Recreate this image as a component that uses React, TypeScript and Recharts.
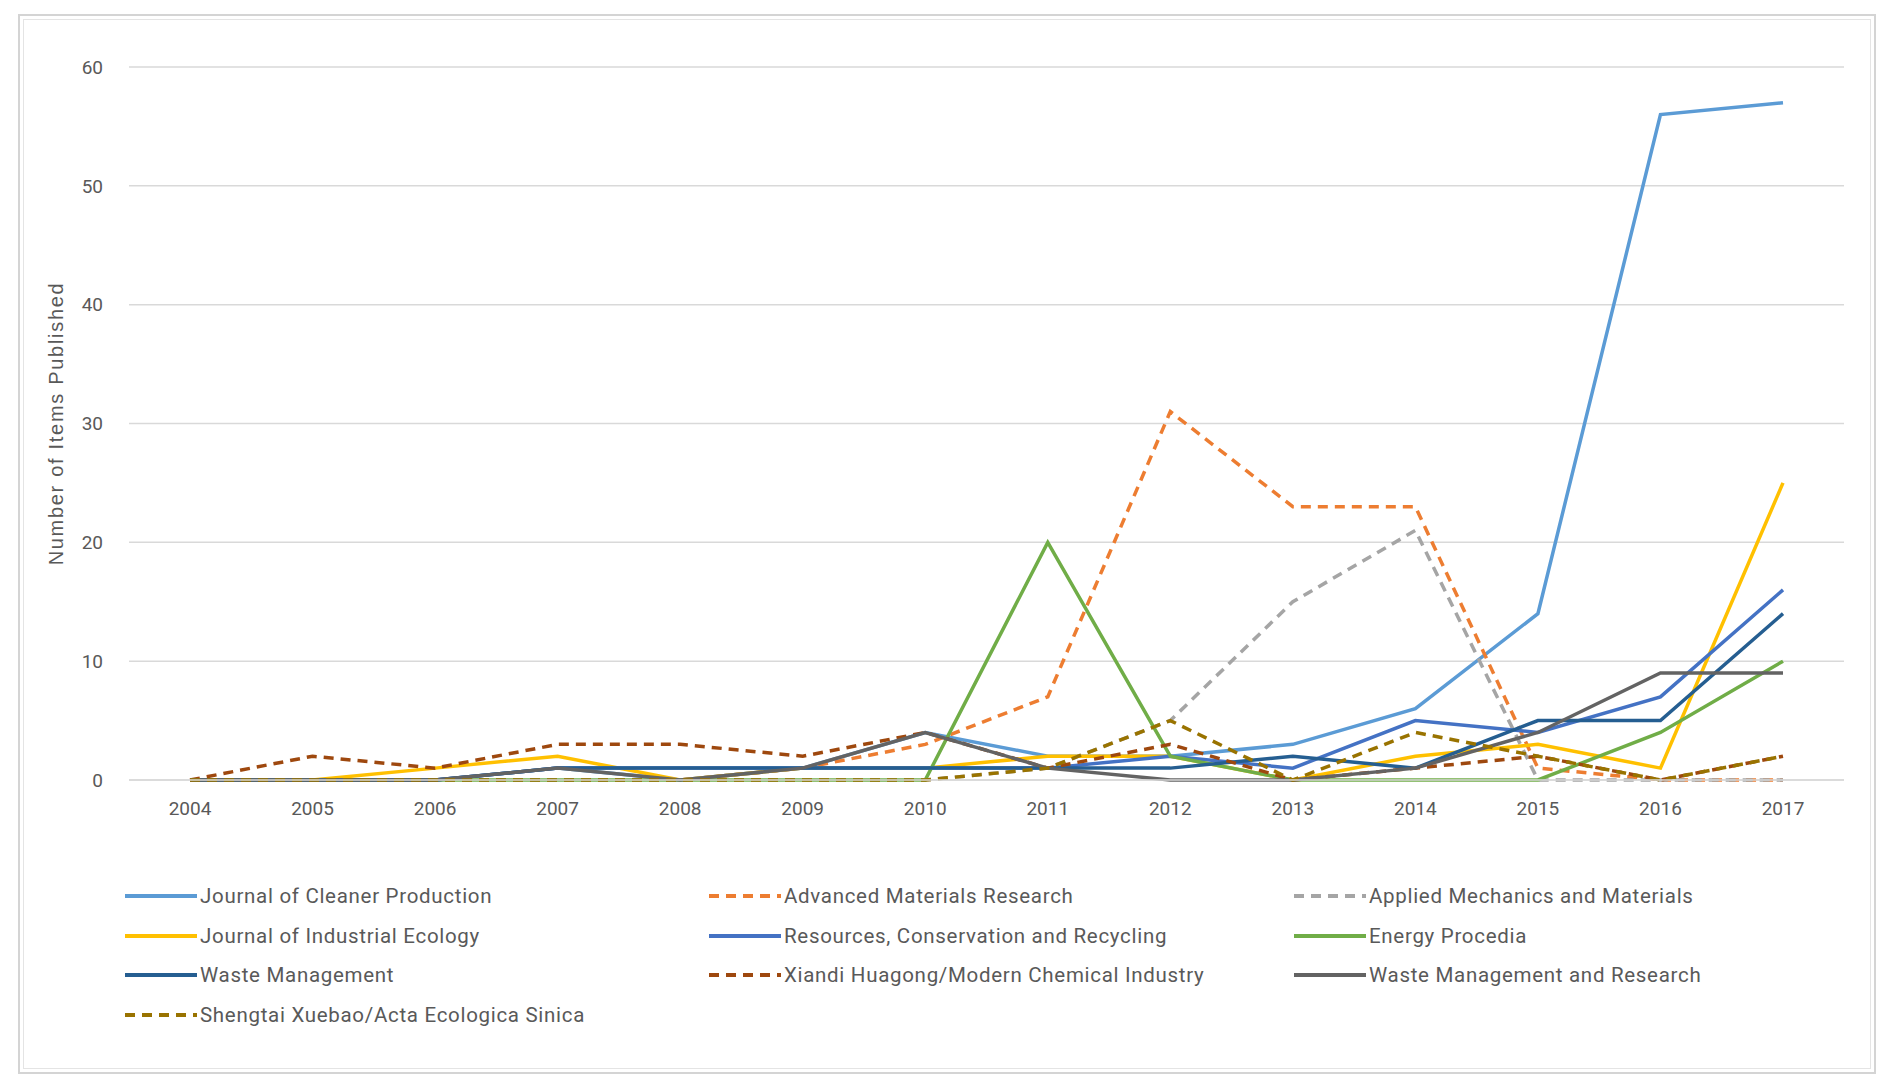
import React from "react"
import { LineChart, Line, XAxis, YAxis, CartesianGrid } from "recharts"

// Values
const years = ["2004", "2005", "2006", "2007", "2008", "2009", "2010", "2011", "2012", "2013", "2014", "2015", "2016", "2017"]
const cleanerProduction = [0, 0, 0, 1, 0, 1, 4, 2, 2, 3, 6, 14, 56, 57]
const advancedMaterials = [0, 0, 0, 0, 0, 1, 3, 7, 31, 23, 23, 1, 0, 0]
const appliedMechanics = [0, 0, 0, 0, 0, 0, 0, 1, 5, 15, 21, 0, 0, 0]
const industrialEcology = [0, 0, 1, 2, 0, 1, 1, 2, 2, 0, 2, 3, 1, 25]
const resourcesConservation = [0, 0, 0, 1, 1, 1, 1, 1, 2, 1, 5, 4, 7, 16]
const energyProcedia = [0, 0, 0, 0, 0, 0, 0, 20, 2, 0, 0, 0, 4, 10]
const wasteManagement = [0, 0, 0, 1, 1, 1, 1, 1, 1, 2, 1, 5, 5, 14]
const xiandiHuagong = [0, 2, 1, 3, 3, 2, 4, 1, 3, 0, 1, 2, 0, 2]
const wasteManagementResearch = [0, 0, 0, 1, 0, 1, 4, 1, 0, 0, 1, 4, 9, 9]
const shengtaiXuebao = [0, 0, 0, 0, 0, 0, 0, 1, 5, 0, 4, 2, 0, 2]
const yTicks = [0, 10, 20, 30, 40, 50, 60]

const series = [
  { key: "jcp", name: "Journal of Cleaner Production", values: cleanerProduction, color: "#5B9BD5", dashed: false },
  { key: "amr", name: "Advanced Materials Research", values: advancedMaterials, color: "#ED7D31", dashed: true },
  { key: "amm", name: "Applied Mechanics and Materials", values: appliedMechanics, color: "#A5A5A5", dashed: true },
  { key: "jie", name: "Journal of Industrial Ecology", values: industrialEcology, color: "#FFC000", dashed: false },
  { key: "rcr", name: "Resources, Conservation and Recycling", values: resourcesConservation, color: "#4472C4", dashed: false },
  { key: "ep", name: "Energy Procedia", values: energyProcedia, color: "#70AD47", dashed: false },
  { key: "wm", name: "Waste Management", values: wasteManagement, color: "#255E91", dashed: false },
  { key: "xh", name: "Xiandi Huagong/Modern Chemical Industry", values: xiandiHuagong, color: "#9E480E", dashed: true },
  { key: "wmr", name: "Waste Management and Research", values: wasteManagementResearch, color: "#636363", dashed: false },
  { key: "st", name: "Shengtai Xuebao/Acta Ecologica Sinica", values: shengtaiXuebao, color: "#997300", dashed: true },
]

const data = years.map((year, i) => {
  const row: Record<string, string | number> = { year }
  series.forEach((s) => {
    row[s.key] = s.values[i]
  })
  return row
})

const FONT = "Roboto, 'Open Sans', sans-serif"
const DASH = "10 7"

// legend is laid out by hand (3 columns) under the plot
function LegendBlock() {
  const colLeft = [125, 709, 1294]
  return (
    <div style={{ position: "absolute", left: 0, top: 881, width: 1884, height: 170 }}>
      {series.map((s, i) => {
        const col = i % 3
        const row = Math.floor(i / 3)
        return (
          <div
            key={s.key}
            style={{
              position: "absolute",
              left: colLeft[col],
              top: row * 39.7,
              height: 30,
              display: "flex",
              alignItems: "center",
              whiteSpace: "nowrap",
            }}
          >
            <svg width={72} height={10} style={{ marginRight: 3 }}>
              <line
                x1={0}
                y1={5}
                x2={72}
                y2={5}
                stroke={s.color}
                strokeWidth={3.8}
                strokeDasharray={s.dashed ? DASH : undefined}
              />
            </svg>
            <span style={{ fontFamily: FONT, fontSize: 20.5, color: "#595959", letterSpacing: 0.7 }}>{s.name}</span>
          </div>
        )
      })}
    </div>
  )
}

export default function App() {
  return (
    <div style={{ position: "absolute", left: 0, top: 0, width: 1884, height: 1080, background: "#fff" }}>
      <div
        style={{
          position: "absolute",
          left: 18,
          top: 14,
          width: 1854,
          height: 1056,
          border: "2px solid #D4D4D4",
          boxShadow: "inset 0 0 0 3px #fff, inset 0 0 0 4px #E4E4E4",
        }}
      />
      <div style={{ position: "absolute", left: 0, top: 0 }}>
        <LineChart width={1884} height={1080} data={data} margin={{ top: 67, right: 40, bottom: 260, left: 29 }}>
          <CartesianGrid horizontal vertical={false} stroke="#D9D9D9" strokeWidth={1.5} />
          <XAxis
            dataKey="year"
            padding={{ left: 61, right: 61 }}
            axisLine={{ stroke: "#D9D9D9", strokeWidth: 1.5 }}
            tickLine={false}
            tickMargin={16}
            height={40}
            tick={{ fontFamily: FONT, fontSize: 19, fill: "#595959" }}
          />
          <YAxis
            width={100}
            domain={[0, 60]}
            ticks={yTicks}
            axisLine={false}
            tickLine={false}
            tickMargin={20}
            tick={{ fontFamily: FONT, fontSize: 19, fill: "#595959" }}
            label={{
              value: "Number of Items Published",
              angle: -90,
              position: "insideLeft",
              offset: 27,
              style: {
                textAnchor: "middle",
                fontFamily: "'Liberation Sans', Arial, sans-serif",
                fontSize: 20,
                letterSpacing: 1.7,
                fill: "#595959",
              },
            }}
          />
          {series.map((s) => (
            <Line
              key={s.key}
              type="linear"
              dataKey={s.key}
              name={s.name}
              stroke={s.color}
              strokeWidth={3.5}
              strokeDasharray={s.dashed ? DASH : undefined}
              dot={false}
              activeDot={false}
              isAnimationActive={false}
            />
          ))}
        </LineChart>
      </div>
      <LegendBlock />
    </div>
  )
}
